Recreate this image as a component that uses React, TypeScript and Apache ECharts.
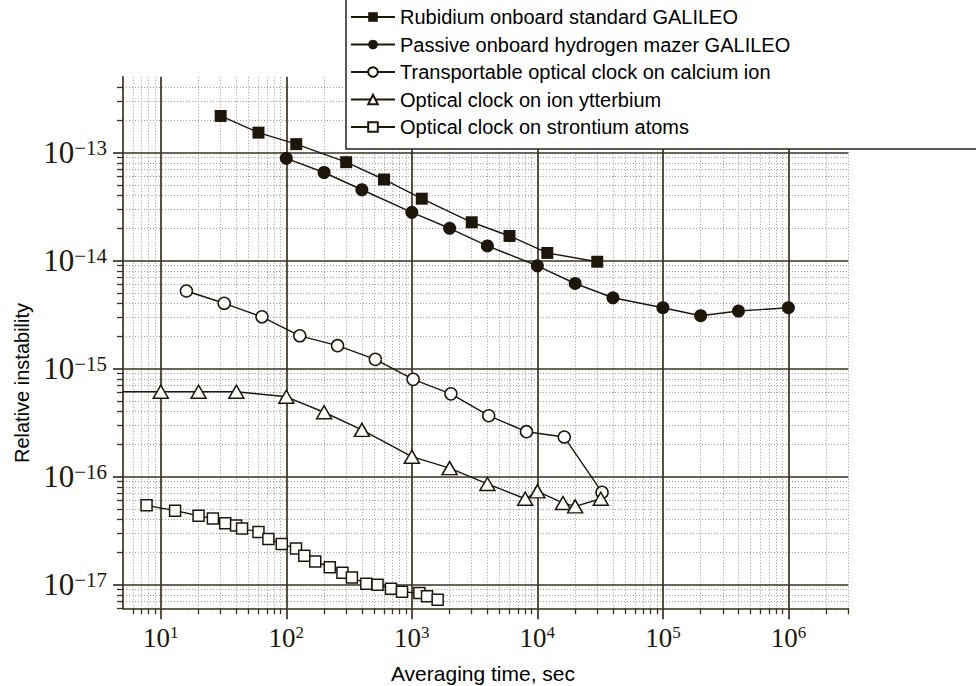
import React, { useEffect, useRef } from 'react';
import * as echarts from 'echarts';

const seriesNames = [
  'Rubidium onboard standard GALILEO',
  'Passive onboard hydrogen mazer GALILEO',
  'Transportable optical clock on calcium ion',
  'Optical clock on ion ytterbium',
  'Optical clock on strontium atoms',
];

const rubidiumT = [30, 60, 120, 300, 600, 1200, 3000, 6000, 12000, 30000];
const rubidiumV = [2.17e-13, 1.52e-13, 1.19e-13, 8.1e-14, 5.6e-14, 3.72e-14, 2.25e-14, 1.68e-14, 1.17e-14, 9.7e-15];

const hydrogenT = [100, 200, 400, 1000, 2000, 4000, 10000, 20000, 40000, 1e5, 2e5, 4e5, 1e6];
const hydrogenV = [8.8e-14, 6.5e-14, 4.5e-14, 2.78e-14, 1.98e-14, 1.36e-14, 8.9e-15, 6.1e-15, 4.5e-15, 3.64e-15, 3.07e-15, 3.39e-15, 3.64e-15];

const calciumT = [16, 32, 64, 128, 256, 512, 1024, 2048, 4096, 8192, 16384, 32768];
const calciumV = [5.2e-15, 4.0e-15, 3.0e-15, 2.0e-15, 1.62e-15, 1.21e-15, 7.9e-16, 5.8e-16, 3.64e-16, 2.59e-16, 2.31e-16, 7.1e-17];

const ytterbiumT = [1, 10, 20, 40, 100, 200, 400, 1000, 2000, 4000, 8000, 10000, 16000, 20000, 32000];
const ytterbiumV = [6.07e-16, 6.07e-16, 6.07e-16, 6.07e-16, 5.45e-16, 3.92e-16, 2.69e-16, 1.52e-16, 1.19e-16, 8.5e-17, 6.2e-17, 7.26e-17, 5.67e-17, 5.27e-17, 6.2e-17];

const strontiumT = [7.7, 13, 20, 26, 32.6, 39.8, 44.4, 60, 72, 92, 119.5, 139, 170, 222, 280, 333, 434, 533, 682, 835, 1148, 1322, 1606];
const strontiumV = [5.39e-17, 4.81e-17, 4.32e-17, 4.06e-17, 3.67e-17, 3.5e-17, 3.28e-17, 3.06e-17, 2.63e-17, 2.36e-17, 2.15e-17, 1.84e-17, 1.63e-17, 1.44e-17, 1.28e-17, 1.16e-17, 1.01e-17, 9.9e-18, 9.1e-18, 8.55e-18, 8.3e-18, 7.74e-18, 7.2e-18];

// axis range (seconds, relative instability)
const xRange = [5, 3e6];
const yRange = [6e-18, 5e-13];
// decade exponents with tick labels
const xDecades = [1, 2, 3, 4, 5, 6];
const yDecades = [-17, -16, -15, -14, -13];
const minorMultipliers = [2, 3, 4, 5, 6, 7, 8, 9];

const INK = '#1e160b';
const GRID = '#3a3222';

function toLog(t: number[], v: number[]) {
  return t.map((x, i) => [Math.log10(x), Math.log10(v[i])]);
}

function minorValues(fromExp: number, toExp: number) {
  const out: number[] = [];
  for (let e = fromExp; e <= toExp; e++) {
    for (const m of minorMultipliers) out.push(Math.log10(m) + e);
  }
  return out;
}

export default function App() {
  const ref = useRef<HTMLDivElement>(null);
  useEffect(() => {
    if (!ref.current) return;
    const chart = echarts.init(ref.current, undefined, { renderer: 'svg' });
    const xMin = Math.log10(xRange[0]);
    const xMax = Math.log10(xRange[1]);
    const yMin = Math.log10(yRange[0]);
    const yMax = Math.log10(yRange[1]);
    const minorX = minorValues(0, 6).filter((v) => v > xMin + 1e-9 && v < xMax + 1e-9);
    const minorY = minorValues(-18, -13).filter((v) => v > yMin - 1e-9 && v < yMax - 1e-9);

    const serif = 'Liberation Serif';
    const richX = {
      b: { fontFamily: serif, fontSize: 27, color: INK, lineHeight: 28, verticalAlign: 'middle' },
      e: { fontFamily: serif, fontSize: 17, color: INK, lineHeight: 28, verticalAlign: 'top' },
    };
    const richY = {
      b: { fontFamily: serif, fontSize: 31, color: INK, lineHeight: 30, verticalAlign: 'middle' },
      e: { fontFamily: serif, fontSize: 21, color: INK, lineHeight: 30, verticalAlign: 'top' },
    };

    const minorSplit = { show: true, lineStyle: { color: '#9a9a9a', width: 1, type: [1, 2] } };
    const majorSplit = { show: true, lineStyle: { color: GRID, width: 1.7 } };

    const lineBase = {
      type: 'line',
      xAxisIndex: 0,
      yAxisIndex: 0,
      clip: true,
      z: 3,
      emphasis: { disabled: true },
      lineStyle: { color: INK, width: 1.4 },
    };

    chart.setOption({
      animation: false,
      backgroundColor: '#fff',
      grid: { left: 123, right: 127.7, top: 76.8, bottom: 77.7, outerBoundsMode: 'none', containLabel: false },
      xAxis: [
        {
          type: 'value', min: xMin, max: xMax, position: 'bottom', z: 1,
          axisLine: { show: true, onZero: false, lineStyle: { color: GRID, width: 1.7 } },
          axisTick: { show: true, customValues: xDecades, length: 11, lineStyle: { color: GRID, width: 1.7 } },
          axisLabel: {
            show: true, customValues: xDecades, margin: 16, fontSize: 27, fontFamily: serif,
            formatter: (v: number) => `{b|10}{e|${Math.round(v)}}`, rich: richX,
          },
          splitLine: majorSplit,
        },
        {
          type: 'value', min: xMin, max: xMax, position: 'bottom', z: 0,
          axisLine: { show: false },
          axisTick: { show: true, customValues: minorX, length: 6, lineStyle: { color: GRID, width: 1.3 } },
          axisLabel: { show: false },
          splitLine: minorSplit,
        },
      ],
      yAxis: [
        {
          type: 'value', min: yMin, max: yMax, position: 'left', z: 1,
          axisLine: { show: true, onZero: false, lineStyle: { color: GRID, width: 1.7 } },
          axisTick: { show: true, customValues: yDecades, length: 10, lineStyle: { color: GRID, width: 1.7 } },
          axisLabel: {
            show: true, customValues: yDecades, margin: 16, fontSize: 31, fontFamily: serif,
            formatter: (v: number) => `{b|10}{e|\u2212${Math.abs(Math.round(v))}}`, rich: richY,
          },
          splitLine: majorSplit,
        },
        {
          type: 'value', min: yMin, max: yMax, position: 'left', z: 0,
          axisLine: { show: false },
          axisTick: { show: true, customValues: minorY, length: 6, lineStyle: { color: GRID, width: 1.3 } },
          axisLabel: { show: false },
          splitLine: minorSplit,
        },
      ],
      legend: {
        orient: 'vertical', left: 350, top: 7, padding: 0, itemGap: 7.5,
        itemWidth: 44, itemHeight: 12, z: 10,
        selectedMode: false,
        textStyle: { fontFamily: 'Liberation Sans', fontSize: 20, lineHeight: 20, color: '#000' },
        data: seriesNames,
      },
      graphic: [
        {
          type: 'rect', z: 5,
          shape: { x: 346, y: -5, width: 700, height: 154 },
          style: { fill: '#fff', stroke: '#2a2418', lineWidth: 1.5 },
        },
        {
          type: 'text', z: 5, x: 22, y: 383, rotation: Math.PI / 2,
          style: {
            text: 'Relative instability', fill: '#000',
            font: '20px Liberation Sans',
            align: 'center', verticalAlign: 'middle', textAlign: 'center', textVerticalAlign: 'middle',
          },
        },
        {
          type: 'text', z: 5, x: 483, y: 673,
          style: {
            text: 'Averaging time, sec', fill: '#000',
            font: '21px Liberation Sans',
            align: 'center', verticalAlign: 'middle', textAlign: 'center', textVerticalAlign: 'middle',
          },
        },
      ],
      series: [
        {
          ...lineBase, name: seriesNames[0], data: toLog(rubidiumT, rubidiumV),
          symbol: 'rect', symbolSize: 12, itemStyle: { color: INK },
        },
        {
          ...lineBase, name: seriesNames[1], data: toLog(hydrogenT, hydrogenV),
          symbol: 'circle', symbolSize: 13, itemStyle: { color: INK },
        },
        {
          ...lineBase, name: seriesNames[2], data: toLog(calciumT, calciumV),
          symbol: 'circle', symbolSize: 12, itemStyle: { color: '#fff', borderColor: INK, borderWidth: 1.5 },
        },
        {
          ...lineBase, name: seriesNames[3], data: toLog(ytterbiumT, ytterbiumV),
          symbol: 'triangle', symbolSize: [15, 13], itemStyle: { color: '#fff', borderColor: INK, borderWidth: 1.5 },
        },
        {
          ...lineBase, name: seriesNames[4], data: toLog(strontiumT, strontiumV),
          symbol: 'rect', symbolSize: 11, itemStyle: { color: '#fff', borderColor: INK, borderWidth: 1.5 },
        },
      ],
    });
    return () => chart.dispose();
  }, []);
  return <div ref={ref} style={{ position: 'fixed', left: 0, top: 0, width: 976, height: 686 }} />;
}
